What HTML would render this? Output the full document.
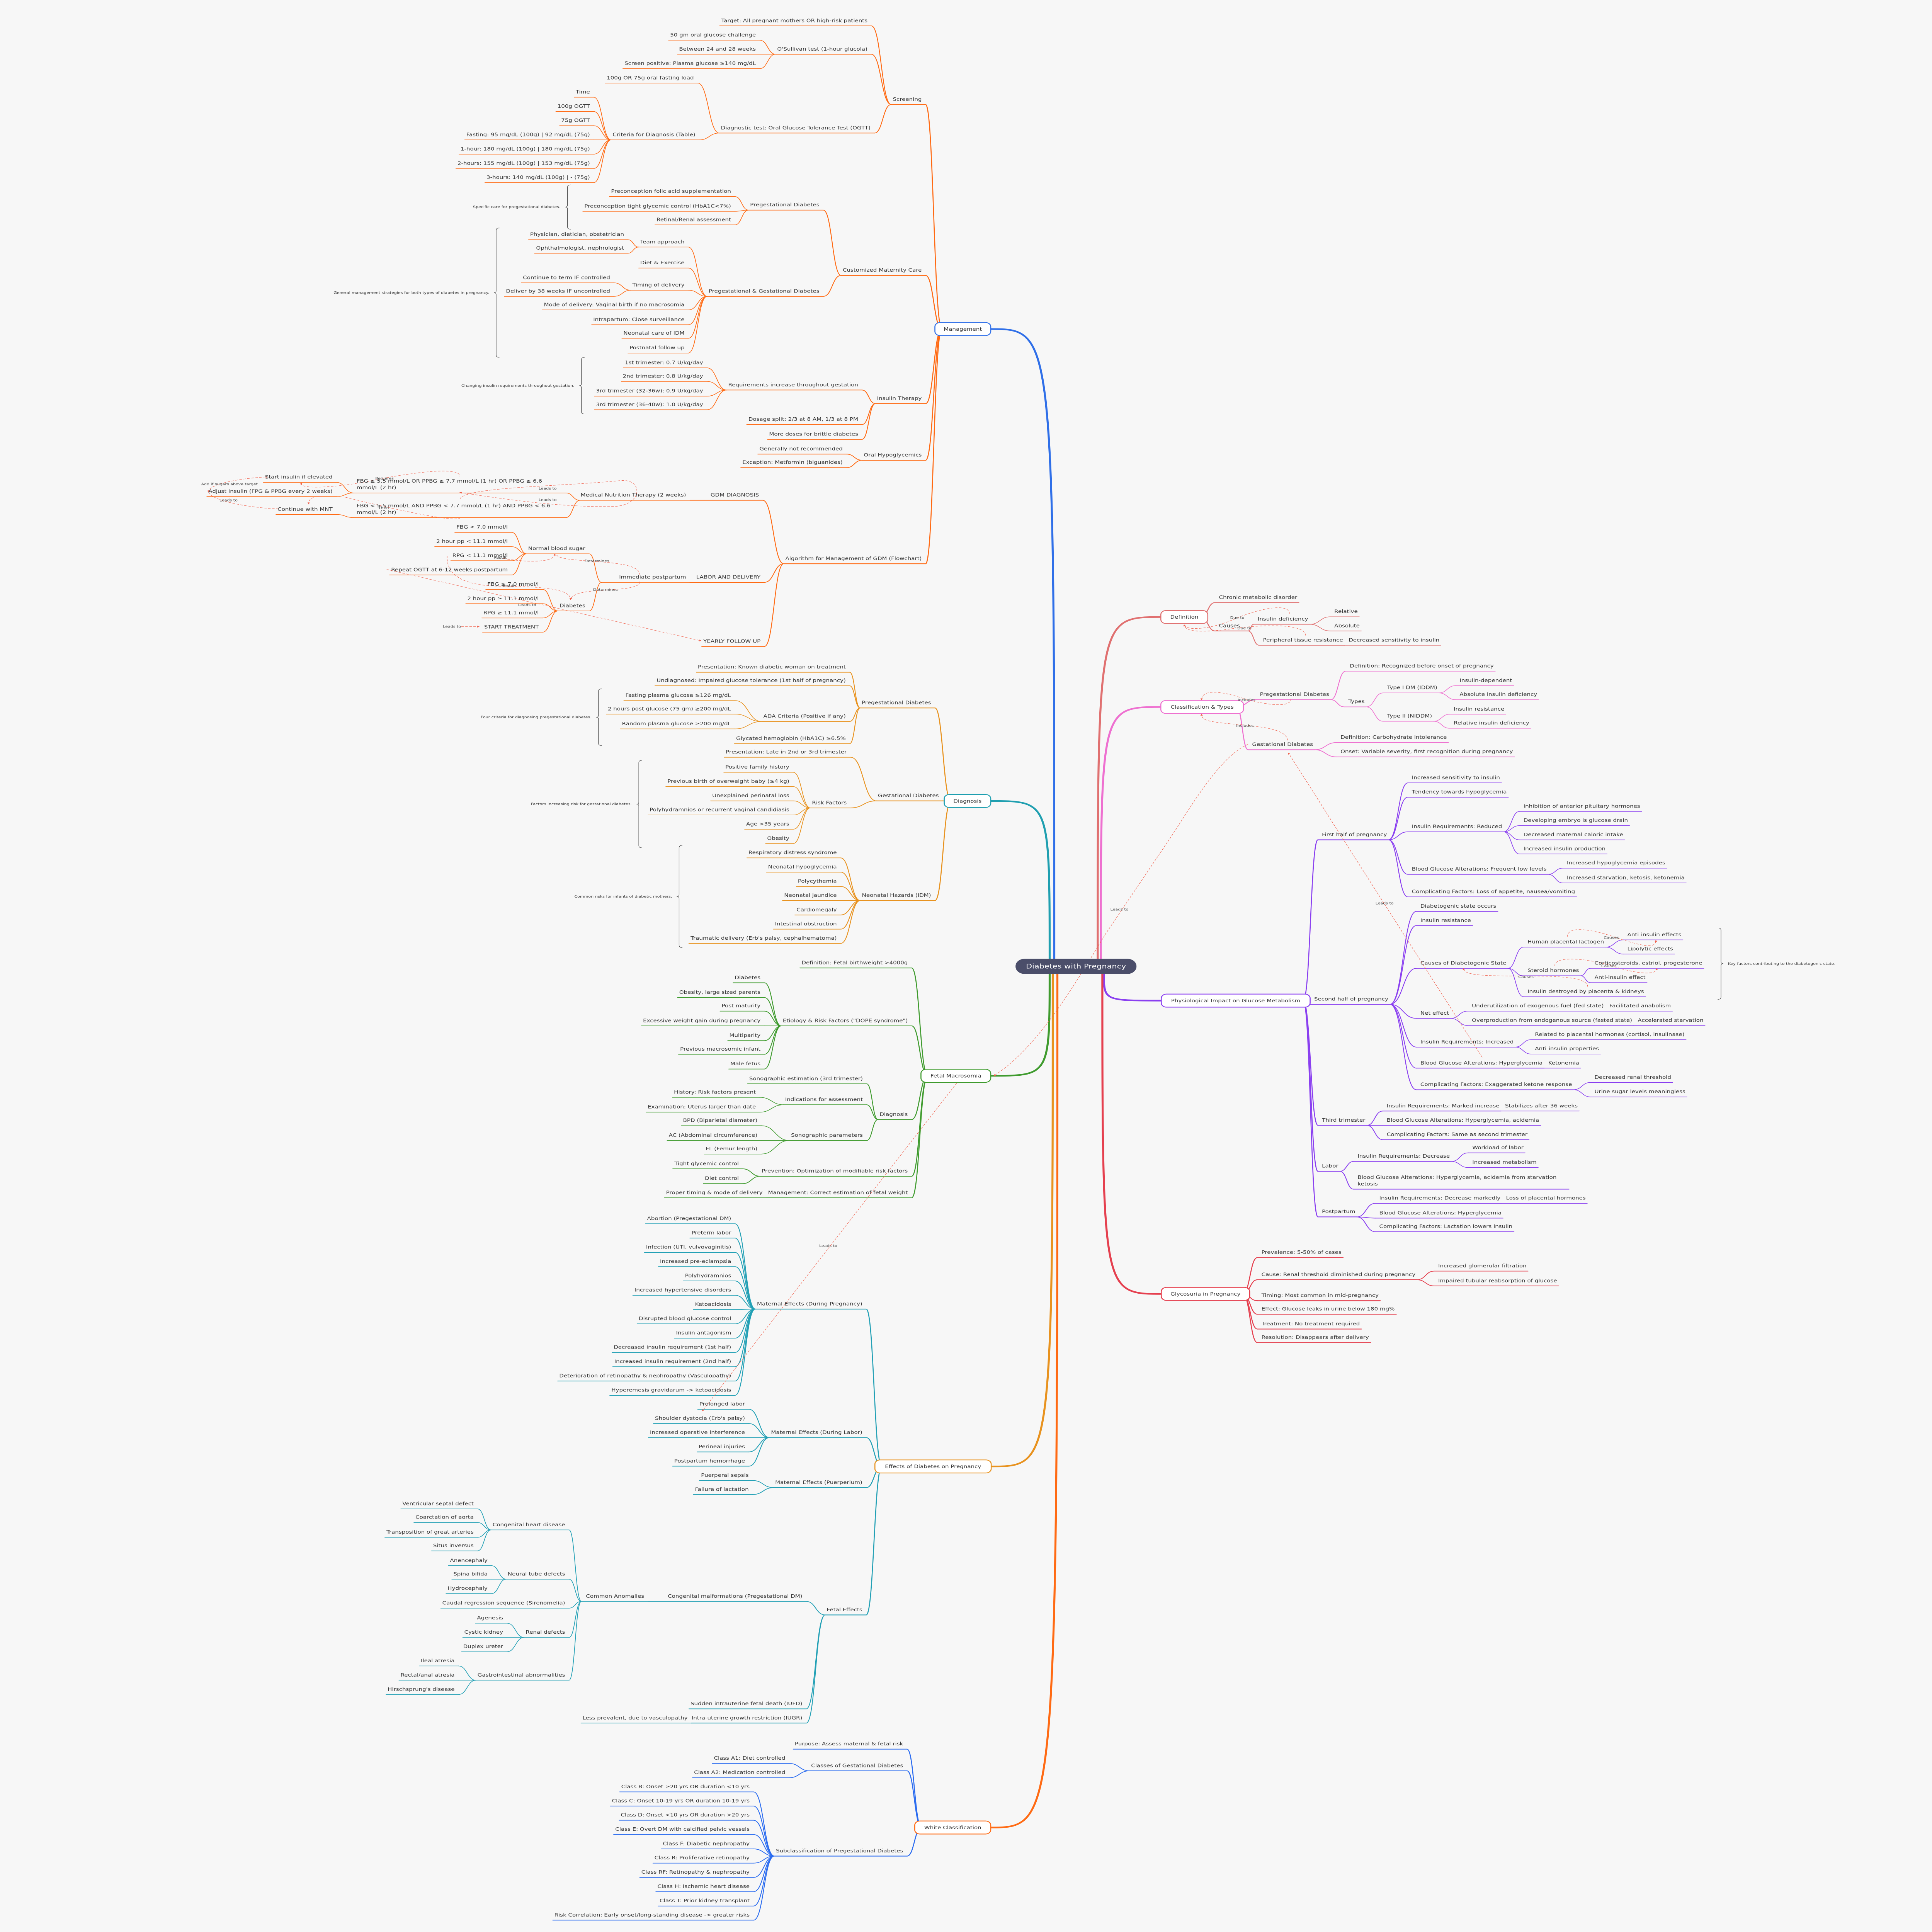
<!DOCTYPE html>
<html><head><meta charset="utf-8">
<style>
html,body{margin:0;padding:0;background:#f7f7f7;width:100%;height:100%;overflow:hidden;}
svg{display:block;width:100vw;height:100vh;position:absolute;left:0;top:0;}
text{font-family:"DejaVu Sans","Liberation Sans",sans-serif;}
</style></head>
<body>
<svg id="s" xmlns="http://www.w3.org/2000/svg" viewBox="0 0 1246.1 1567.8" preserveAspectRatio="none">
<defs><marker id="ar" viewBox="0 0 10 10" refX="8" refY="5" markerWidth="5" markerHeight="5" orient="auto-start-reverse"><path d="M0,0 L10,5 L0,10z" fill="#f0604c"/></marker></defs>
<rect x="0" y="0" width="1246.1" height="1567.8" fill="#f7f7f7"/>
<g id="gl" fill="none" stroke-linecap="round"></g>
<g id="gd" fill="none"></g>
<g id="gb"></g>
<g id="gt" fill="#333" font-size="3.75"></g>
<text id="tmp" font-size="3.75" x="10" y="10" visibility="hidden">x</text>
</svg>
<script>
var NS="http://www.w3.org/2000/svg";
var gl=document.getElementById('gl'),gb=document.getElementById('gb'),gt=document.getElementById('gt'),gd=document.getElementById('gd');
var tmp=document.getElementById('tmp');
function E(tag,a,p){var e=document.createElementNS(NS,tag);for(var k in a)e.setAttribute(k,a[k]);if(p)p.appendChild(e);return e;}
function M(s){tmp.textContent=s;return tmp.getComputedTextLength();}
function N(t,x,y,k,o){var n={t:t,x:x,y:y,k:k||[]};if(o)for(var i in o)n[i]=o[i];return n;}
function S(t,k,o){var n={t:t,snap:1,k:k||[]};if(o)for(var i in o)n[i]=o[i];return n;}
function T(str,x,y,anchor,par,fs,fill){var e=E('text',{x:x,y:y,'text-anchor':anchor},par||gt);if(fs)e.setAttribute('font-size',fs);if(fill)e.setAttribute('fill',fill);e.textContent=str;return e;}
function draw(n,pf,py,col,d,side){
  var lines=n.t.split('\n');var w=0;lines.forEach(function(l){w=Math.max(w,M(l));});
  var near=n.snap?pf:n.x,y=n.snap?py:n.y,far;
  if(side==='L')far=(n.far!==undefined)?n.far:near-2.5-w-1;else far=(n.far!==undefined)?n.far:near+2.6+w+1;
  var sw=d==1?0.65:(d==2?0.55:0.45);
  E('path',{d:'M'+far+' '+y+' L'+near+' '+y,stroke:col,'stroke-width':sw},gl);
  if(!n.snap){var m=(near+pf)/2;E('path',{d:'M'+near+' '+y+' C'+m+' '+y+' '+m+' '+py+' '+pf+' '+py,stroke:col,'stroke-width':sw},gl);}
  for(var i=0;i<lines.length;i++){
    var by=y-3-(lines.length-1-i)*5.3;
    if(side==='L'){ if(n.far!==undefined&&lines.length>1)T(lines[i],far+2,by,'start');else T(lines[i],near-2.5,by,'end');}
    else T(lines[i],near+2.6,by,'start');
  }
  n.k.forEach(function(c){draw(c,far,y,col,d+1,side);});
}
function branch(b){
  var x1=b.box[0],x2=b.box[1],yc=b.box[2];
  var ry=yc<784?778:790;
  var ex=b.side==='L'?x2:x1;
  E('path',{d:'M'+b.rx+' '+ry+' C'+b.rx+' '+yc+' '+b.rx+' '+yc+' '+ex+' '+yc,stroke:b.rc,'stroke-width':1.3},gl);
  var pf=b.side==='L'?x1+4.5:x2-4.5;
  b.k.forEach(function(c){draw(c,pf,yc,b.lc,1,b.side);});
  E('rect',{x:x1,y:yc-5.3,width:x2-x1,height:10.6,rx:3.4,fill:'#fff',stroke:b.bc,'stroke-width':0.65},gb);
  T(b.t,(x1+x2)/2,yc+1.35,'middle',gb,3.75,'#333');
}
function brace(x,y1,y2,label,right){
  var m=(y1+y2)/2,s=right?-1:1;
  E('path',{d:'M'+(x+2*s)+' '+y1+' Q'+x+' '+y1+' '+x+' '+(y1+2)+' L'+x+' '+(m-1.5)+' Q'+x+' '+m+' '+(x-1.5*s)+' '+m+' Q'+x+' '+m+' '+x+' '+(m+1.5)+' L'+x+' '+(y2-2)+' Q'+x+' '+y2+' '+(x+2*s)+' '+y2,stroke:'#444','stroke-width':0.3,fill:'none'},gl);
  T(label,right?x+4.5:x-4.5,m+0.9,right?'start':'end',gt,2.75,'#333');
}
function dash(d,arrowEnd,arrowStart){var a={d:d,stroke:'#f0604c','stroke-width':0.3,'stroke-dasharray':'1.6 1'};if(arrowEnd)a['marker-end']='url(#ar)';if(arrowStart)a['marker-start']='url(#ar)';E('path',a,gd);}
function lab(s,x,y){T(s,x,y+0.9,'middle',gt,2.75,'#444');}

var OR='#ff6a13';
var B=[];
B.push({t:'Management',box:[603,639,267],side:'L',rx:680,rc:'#2f6fe8',bc:'#2f6fe8',lc:OR,k:[
 N('Screening',597,84.8,[
  N('Target: All pregnant mothers OR high-risk patients',562,21),
  N("O'Sullivan test (1-hour glucola)",562,44,[
   N('50 gm oral glucose challenge',490,32.6),
   N('Between 24 and 28 weeks',490,44),
   N('Screen positive: Plasma glucose \u2265140 mg/dL',490,55.7)]),
  N('Diagnostic test: Oral Glucose Tolerance Test (OGTT)',564,108,[
   N('100g OR 75g oral fasting load',450,67.4),
   N('Criteria for Diagnosis (Table)',451,113.5,[
    N('Time',383,78.9),N('100g OGTT',383,90.5),N('75g OGTT',383,102),
    N('Fasting: 95 mg/dL (100g) | 92 mg/dL (75g)',383,113.5),
    N('1-hour: 180 mg/dL (100g) | 180 mg/dL (75g)',383,125.1),
    N('2-hours: 155 mg/dL (100g) | 153 mg/dL (75g)',383,136.7),
    N('3-hours: 140 mg/dL (100g) | - (75g)',383,148.2)])])]),
 N('Customized Maternity Care',597,223.5,[
  N('Pregestational Diabetes',531,170.5,[
   N('Preconception folic acid supplementation',474,159.5),
   N('Preconception tight glycemic control (HbA1C<7%)',474,171.5),
   N('Retinal/Renal assessment',474,182.5)]),
  N('Pregestational & Gestational Diabetes',531,240.5,[
   N('Team approach',444,200.5,[N('Physician, dietician, obstetrician',405,194.5),N('Ophthalmologist, nephrologist',405,205.5)]),
   N('Diet & Exercise',444,217.5),
   N('Timing of delivery',444,235.5,[N('Continue to term IF controlled',396,229.5),N('Deliver by 38 weeks IF uncontrolled',396,240.5)]),
   N('Mode of delivery: Vaginal birth if no macrosomia',444,251.5),
   N('Intrapartum: Close surveillance',444,263.5),
   N('Neonatal care of IDM',444,274.5),
   N('Postnatal follow up',444,286.5)])]),
 N('Insulin Therapy',597,327.5,[
  N('Requirements increase throughout gestation',556,316.5,[
   N('1st trimester: 0.7 U/kg/day',456,298.5),N('2nd trimester: 0.8 U/kg/day',456,309.5),
   N('3rd trimester (32-36w): 0.9 U/kg/day',456,321.5),N('3rd trimester (36-40w): 1.0 U/kg/day',456,332.5)]),
  N('Dosage split: 2/3 at 8 AM, 1/3 at 8 PM',556,344.5),
  N('More doses for brittle diabetes',556,356.5)]),
 N('Oral Hypoglycemics',597,373.5,[N('Generally not recommended',546,368.5),N('Exception: Metformin (biguanides)',546,379.5)]),
 N('Algorithm for Management of GDM (Flowchart)',597,457.5,[
  N('GDM DIAGNOSIS',492,406,[
   S('Medical Nutrition Therapy (2 weeks)',[
    N('FBG \u2265 5.5 mmol/L OR PPBG \u2265 7.7 mmol/L (1 hr) OR PPBG \u2265 6.6\nmmol/L (2 hr)',365,400,[
     N('Start insulin if elevated',217,391.4),N('Adjust insulin (FPG & PPBG every 2 weeks)',217,403)],{far:228}),
    N('FBG < 5.5 mmol/L AND PPBG < 7.7 mmol/L (1 hr) AND PPBG < 6.6\nmmol/L (2 hr)',365,420,[
     N('Continue with MNT',217,417.5)],{far:228})],{far:374})],{far:445}),
  N('LABOR AND DELIVERY',493,472.6,[
   S('Immediate postpartum',[
    N('Normal blood sugar',380,449.4,[
     N('FBG < 7.0 mmol/l',330,432),N('2 hour pp < 11.1 mmol/l',330,443.6),N('RPG < 11.1 mmol/l',330,455),N('Repeat OGTT at 6-12 weeks postpartum',330,466.6)]),
    N('Diabetes',380,495.8,[
     N('FBG \u2265 7.0 mmol/l',350,478.3),N('2 hour pp \u2265 11.1 mmol/l',350,489.9),N('RPG \u2265 11.1 mmol/l',350,501.5),N('START TREATMENT',350,513)])],{far:388})],{far:445}),
  N('YEARLY FOLLOW UP',493,524.6)])]});
var AM='#e8921e';
B.push({t:'Diagnosis',box:[609,639,650],side:'L',rx:677,rc:'#1f9fb0',bc:'#1f9fb0',lc:AM,k:[
 N('Pregestational Diabetes',603,574.5,[
  N('Presentation: Known diabetic woman on treatment',548,545.5),
  N('Undiagnosed: Impaired glucose tolerance (1st half of pregnancy)',548,556.5),
  N('ADA Criteria (Positive if any)',548,585.5,[
   N('Fasting plasma glucose \u2265126 mg/dL',474,568.5),N('2 hours post glucose (75 gm) \u2265200 mg/dL',474,579.5),N('Random plasma glucose \u2265200 mg/dL',474,591.5)]),
  N('Glycated hemoglobin (HbA1C) \u22656.5%',548,603.5)]),
 N('Gestational Diabetes',608,649.9,[
  N('Presentation: Late in 2nd or 3rd trimester',548.6,614.5),
  N('Risk Factors',548.6,655.6,[
   N('Positive family history',511.6,626.7),N('Previous birth of overweight baby (\u22654 kg)',511.6,638.3),N('Unexplained perinatal loss',511.6,649.9),
   N('Polyhydramnios or recurrent vaginal candidiasis',511.6,661.4),N('Age >35 years',511.6,672.9),N('Obesity',511.6,684.5)])]),
 N('Neonatal Hazards (IDM)',603,730.8,[
  N('Respiratory distress syndrome',542.2,696.2),N('Neonatal hypoglycemia',542.2,707.7),N('Polycythemia',542.2,719.3),
  N('Neonatal jaundice',542.2,730.8),N('Cardiomegaly',542.2,742.5),N('Intestinal obstruction',542.2,754),
  N("Traumatic delivery (Erb's palsy, cephalhematoma)",542.2,765.6)])]});
var GR='#3f9b2e';
B.push({t:'Fetal Macrosomia',box:[594,639,873],side:'L',rx:677,rc:GR,bc:GR,lc:GR,k:[
 N('Definition: Fetal birthweight >4000g',588,785.5),
 N('Etiology & Risk Factors ("DOPE syndrome")',588,832.5,[
  N('Diabetes',493,797.5),N('Obesity, large sized parents',493,809.5),N('Post maturity',493,820.5),
  N('Excessive weight gain during pregnancy',493,832.5),N('Multiparity',493,844.5),N('Previous macrosomic infant',493,855.5),N('Male fetus',493,867.5)]),
 N('Diagnosis',588,908.5,[
  N('Sonographic estimation (3rd trimester)',559,879.5),
  N('Indications for assessment',559,896.5,[N('History: Risk factors present',490,890.5),N('Examination: Uterus larger than date',490,902.5)]),
  N('Sonographic parameters',559,925.5,[N('BPD (Biparietal diameter)',491,913.5),N('AC (Abdominal circumference)',491,925.5),N('FL (Femur length)',491,936.5)])]),
 N('Prevention: Optimization of modifiable risk factors',588,954.5,[N('Tight glycemic control',479,948.5),N('Diet control',479,960.5)]),
 N('Management: Correct estimation of fetal weight',588,972,[S('Proper timing & mode of delivery')])]});
var TL='#22a0b5';
var medp=['Abortion (Pregestational DM)','Preterm labor','Infection (UTI, vulvovaginitis)','Increased pre-eclampsia','Polyhydramnios','Increased hypertensive disorders','Ketoacidosis','Disrupted blood glucose control','Insulin antagonism','Decreased insulin requirement (1st half)','Increased insulin requirement (2nd half)','Deterioration of retinopathy & nephropathy (Vasculopathy)','Hyperemesis gravidarum -> ketoacidosis'].map(function(s,i){return N(s,474.1,993.1+i*11.6);});
B.push({t:'Effects of Diabetes on Pregnancy',box:[564.3,639.3,1190],side:'L',rx:679,rc:AM,bc:AM,lc:TL,k:[
 N('Maternal Effects (During Pregnancy)',558.7,1062.3,medp),
 N('Maternal Effects (During Labor)',558.7,1166.6,[
  N('Prolonged labor',483,1143.6),N("Shoulder dystocia (Erb's palsy)",483,1155.2),N('Increased operative interference',483,1166.6),N('Perineal injuries',483,1178.2),N('Postpartum hemorrhage',483,1189.8)]),
 N('Maternal Effects (Puerperium)',558.7,1207.2,[N('Puerperal sepsis',485.4,1201.4),N('Failure of lactation',485.4,1212.8)]),
 N('Fetal Effects',558.7,1310.5,[
  N('Congenital malformations (Pregestational DM)',520,1299.5,[
   S('Common Anomalies',[
    N('Congenital heart disease',367,1241.5,[N('Ventricular septal defect',308,1224.5),N('Coarctation of aorta',308,1235.5),N('Transposition of great arteries',308,1247.5),N('Situs inversus',308,1258.5)]),
    N('Neural tube defects',367,1281.5,[N('Anencephaly',317,1270.5),N('Spina bifida',317,1281.5),N('Hydrocephaly',317,1293.2)]),
    N('Caudal regression sequence (Sirenomelia)',367,1305),
    N('Renal defects',367,1328.8,[N('Agenesis',327,1317.2),N('Cystic kidney',327,1328.8),N('Duplex ureter',327,1340.4)]),
    N('Gastrointestinal abnormalities',367,1363.5,[N('Ileal atresia',295.7,1351.9),N('Rectal/anal atresia',295.7,1363.5),N("Hirschsprung's disease",295.7,1375.1)])],{far:375})],{far:418}),
  N('Sudden intrauterine fetal death (IUFD)',520,1386.7),
  N('Intra-uterine growth restriction (IUGR)',520,1398.3,[S('Less prevalent, due to vasculopathy')],{far:446})])]});
var BL='#2b6cf0';
var wc=[['Class B: Onset \u226520 yrs OR duration <10 yrs',1454.1],['Class C: Onset 10-19 yrs OR duration 10-19 yrs',1465.6],['Class D: Onset <10 yrs OR duration >20 yrs',1477.1],['Class E: Overt DM with calcified pelvic vessels',1488.7],['Class F: Diabetic nephropathy',1500.4],['Class R: Proliferative retinopathy',1511.9],['Class RF: Retinopathy & nephropathy',1523.5],['Class H: Ischemic heart disease',1535.1],['Class T: Prior kidney transplant',1546.7],['Risk Correlation: Early onset/long-standing disease -> greater risks',1558.2]].map(function(a){return N(a[0],486,a[1]);});
B.push({t:'White Classification',box:[590,639,1483],side:'L',rx:682,rc:OR,bc:OR,lc:BL,k:[
 N('Purpose: Assess maternal & fetal risk',585,1419.4),
 N('Classes of Gestational Diabetes',585,1437,[N('Class A1: Diet controlled',509,1431),N('Class A2: Medication controlled',509,1442.6)]),
 N('Subclassification of Pregestational Diabetes',585,1506.2,wc)]});
var RD='#e07070';
B.push({t:'Definition',box:[748.7,779,500.7],side:'R',rx:708,rc:RD,bc:RD,lc:RD,k:[
 N('Chronic metabolic disorder',783.6,489),
 N('Causes',783.6,512,[
  N('Insulin deficiency',808.6,506.6,[N('Relative',858,500.5),N('Absolute',858,512)]),
  N('Peripheral tissue resistance',812,523.6,[S('Decreased sensitivity to insulin')])],{far:805})]});
var PK='#ee70d0';
B.push({t:'Classification & Types',box:[748.7,802,573.7],side:'R',rx:710,rc:PK,bc:PK,lc:PK,k:[
 N('Pregestational Diabetes',810,567.8,[
  N('Definition: Recognized before onset of pregnancy',868,544.6),
  N('Types',867,573.6,[
   N('Type I DM (IDDM)',892,562.3,[N('Insulin-dependent',938.8,556.4),N('Absolute insulin deficiency',938.8,567.8)]),
   N('Type II (NIDDM)',892,585.3,[N('Insulin resistance',935,579.6),N('Relative insulin deficiency',935,591)])])]),
 N('Gestational Diabetes',805,608.4,[
  N('Definition: Carbohydrate intolerance',862,602.6),
  N('Onset: Variable severity, first recognition during pregnancy',862,614.2)])]});
var PU='#8a3ff0';
B.push({t:'Physiological Impact on Glucose Metabolism',box:[749,845,812],side:'R',rx:712,rc:PU,bc:PU,lc:PU,k:[
 N('First half of pregnancy',850,681.5,[
  N('Increased sensitivity to insulin',908,635.3),
  N('Tendency towards hypoglycemia',908,646.9),
  N('Insulin Requirements: Reduced',908,675,[N('Inhibition of anterior pituitary hormones',980,658.5),N('Developing embryo is glucose drain',980,670),N('Decreased maternal caloric intake',980,681.5),N('Increased insulin production',980,693)]),
  N('Blood Glucose Alterations: Frequent low levels',908,709.5,[N('Increased hypoglycemia episodes',1008,704.5),N('Increased starvation, ketosis, ketonemia',1008,716.5)]),
  N('Complicating Factors: Loss of appetite, nausea/vomiting',908,727.8)]),
 N('Second half of pregnancy',845,815,[
  N('Diabetogenic state occurs',913.5,739.6),
  N('Insulin resistance',913.5,751.1),
  N('Causes of Diabetogenic State',913.5,785.8,[
   N('Human placental lactogen',982.6,768.6,[N('Anti-insulin effects',1047,762.7),N('Lipolytic effects',1047,774.2)]),
   N('Steroid hormones',982.6,791.8,[N('Corticosteroids, estriol, progesterone',1025.8,785.8),N('Anti-insulin effect',1025.8,797.4)]),
   N('Insulin destroyed by placenta & kidneys',982.6,808.8)]),
  N('Net effect',913.5,826.4,[
   N('Underutilization of exogenous fuel (fed state)',946.7,820.5,[S('Facilitated anabolism')]),
   N('Overproduction from endogenous source (fasted state)',946.7,832.2,[S('Accelerated starvation')])]),
  N('Insulin Requirements: Increased',913.5,849.7,[N('Related to placental hormones (cortisol, insulinase)',987.4,843.7),N('Anti-insulin properties',987.4,855.3)]),
  N('Blood Glucose Alterations: Hyperglycemia',913.5,866.8,[S('Ketonemia')]),
  N('Complicating Factors: Exaggerated ketone response',913.5,884.3,[N('Decreased renal threshold',1025.8,878.4),N('Urine sugar levels meaningless',1025.8,890.1)])]),
 N('Third trimester',850,913.2,[
  N('Insulin Requirements: Marked increase',891.8,901.6,[S('Stabilizes after 36 weeks')]),
  N('Blood Glucose Alterations: Hyperglycemia, acidemia',891.8,913.2),
  N('Complicating Factors: Same as second trimester',891.8,924.8)]),
 N('Labor',850,950.5,[
  N('Insulin Requirements: Decrease',873,942.5,[N('Workload of labor',947,935.5),N('Increased metabolism',947,947.5)]),
  N('Blood Glucose Alterations: Hyperglycemia, acidemia from starvation\nketosis',873,965,[],{far:1012})]),
 N('Postpartum',850,987.5,[
  N('Insulin Requirements: Decrease markedly',887,976.5,[S('Loss of placental hormones')]),
  N('Blood Glucose Alterations: Hyperglycemia',887,988.5),
  N('Complicating Factors: Lactation lowers insulin',887,999.5)])]});
var GY='#e5404f';
B.push({t:'Glycosuria in Pregnancy',box:[749,806,1050],side:'R',rx:711,rc:GY,bc:GY,lc:GY,k:[
 N('Prevalence: 5-50% of cases',811,1020.5),
 N('Cause: Renal threshold diminished during pregnancy',811,1038.5,[N('Increased glomerular filtration',925,1031.5),N('Impaired tubular reabsorption of glucose',925,1043.5)]),
 N('Timing: Most common in mid-pregnancy',811,1055.5),
 N('Effect: Glucose leaks in urine below 180 mg%',811,1066.5),
 N('Treatment: No treatment required',811,1078.5),
 N('Resolution: Disappears after delivery',811,1089.5)]});

B.forEach(branch);

E('rect',{x:655,y:778,width:78,height:12.4,rx:6,fill:'#4b4e6a'},gb);
T('Diabetes with Pregnancy',694,785.9,'middle',gb,5.2,'#fff');

brace(366,150,186,'Specific care for pregestational diabetes.');
brace(320,185,290,'General management strategies for both types of diabetes in pregnancy.');
brace(375,290,336,'Changing insulin requirements throughout gestation.');
brace(386,559,605,'Four criteria for diagnosing pregestational diabetes.');
brace(412,617,688,'Factors increasing risk for gestational diabetes.');
brace(438,686,769,'Common risks for infants of diabetic mothers.');
brace(1110,753,811,'Key factors contributing to the diabetogenic state.',true);

dash('M805 604 C790 612 775 640 758 674 L713 758 C695 795 670 850 641 873',true);lab('Leads to',722,738);
dash('M617 879 L562 968 L453 1145',true);lab('Leads to',534.2,1011);
dash('M956 858 L884 716 L831 611',true);lab('Leads to',893,733);
dash('M831.6 498 C832 490 815 492 795 503 C780 511 765 512 763.8 507',true);lab('Due to',798,501.3);
dash('M842 515.6 C842 505 810 507 790 511 C775 513 764 513 763.8 507',true);lab('Due to',802.6,509.8);
dash('M832.6 567 C833 575 815 572 800 566 C785 560 775 560 775 568',true);lab('Includes',804,568);
dash('M830.4 600.8 C830 592 815 590 800 588 C780 586 775 585 775 579.5',true);lab('Includes',803,588.9);
dash('M1011 760 C1011 750 1030 755 1045 762 C1060 768 1068 770 1068 763',true);lab('Causes',1039.3,760.9);
dash('M1002.8 783.6 C1003 775 1025 778 1040 784 C1055 790 1068 792 1068.6 786',true);lab('Causes',1037.7,784);
dash('M1024 800.6 C1024 793 1005 792 985 792 C960 792 944 792 944 786',true);lab('Causes',984.2,792.7);
dash('M194.5 392 C192 397.7 220 395.9 248.1 387.9 C271.1 382.7 296.6 379 296.6 386.5',false,true);lab('Requires',248,388.3);
dash('M134.6 399.2 C133.3 394 151.2 388.3 172.5 387',true,true);lab('Add if sugars above target',148,392.9);
dash('M134.6 399.5 C135.9 405.3 156.3 411.8 180 413');lab('Leads to',147.4,406);
dash('M207.3 402.9 C200 403 199 406 199.1 409',true);
dash('M296.6 405 C300 395 360 395 400 390 C415 388 415 410 396 411 C360 412 320 404 296.6 399.6',true);lab('Leads to',353.2,396.4);lab('Leads to',353.2,405.6);
dash('M222.6 403.4 C258.3 414.7 294 424 296.6 420.3');lab('Then',247.4,412.2);
dash('M288.4 451.3 C287.7 472.9 309.4 475.7 324.7 475.7 C350 476 368 478 368 486.5',true);lab('Result',322.6,452.5);lab('Result',327.7,475.6);
dash('M324.7 453.2 C342.5 457 357.8 456 357.8 449.5',true);
dash('M359 450.4 C363 457.9 412.7 452.3 412.7 466.4');lab('Determines',385,455.3);
dash('M412.7 472 C412.7 482.3 370.6 474.8 368 486.5',true);lab('Determines',390.5,478.6);
dash('M249.4 462.1 L452.2 520',true);lab('Leads to',340,491);
dash('M297.5 508.5 L309 508.5',true);lab('Leads to',291.5,508.5);
tmp.textContent='';
</script>
</body></html>
